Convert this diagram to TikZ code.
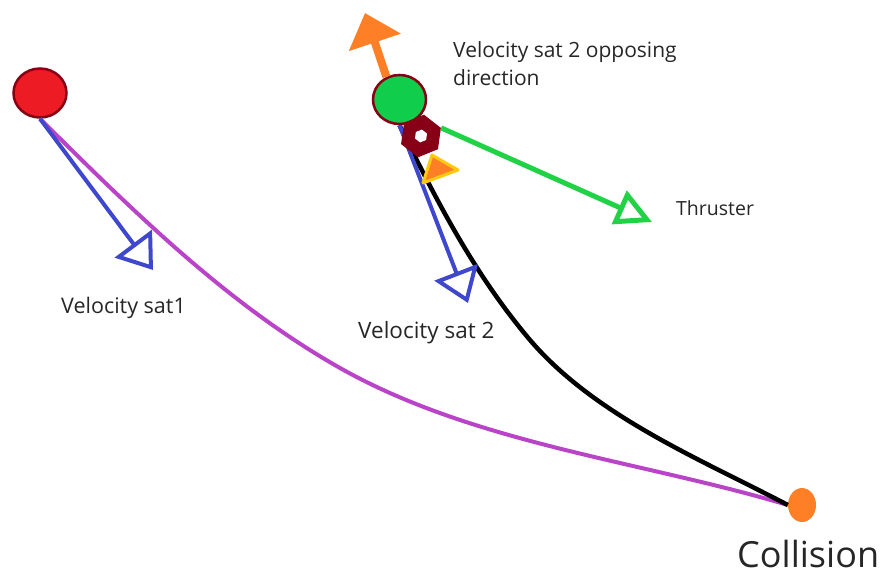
\documentclass[tikz,border=0pt]{standalone}
\usepackage{fontspec}
\setmainfont{Open Sans}
\usepackage{xcolor}
\usepackage{tikz}
\usetikzlibrary{positioning,arrows.meta,shapes.geometric}

\definecolor{satred}{RGB}{237,28,36}
\definecolor{rimred}{RGB}{136,0,21}
\definecolor{satgreen}{RGB}{16,205,76}
\definecolor{thrgreen}{RGB}{34,210,70}
\definecolor{velblue}{RGB}{63,72,204}
\definecolor{orbpurple}{RGB}{186,68,200}
\definecolor{dotorange}{RGB}{255,127,39}
\definecolor{flameyel}{RGB}{255,201,14}

\begin{document}
\begin{tikzpicture}[
  x=1pt, y=-1pt,
  font=\fontsize{21}{28}\selectfont,
  sat/.style={draw=rimred, ellipse, line width=2.5pt,
              minimum width=53pt, minimum height=49pt, inner sep=0pt},
  vel/.style={velblue, line width=4pt,
              -{Triangle[open, length=33pt, width=46pt]}},
  orbit/.style={line width=4pt},
  lbl/.style={anchor=base west, inner sep=0pt, text=black!85},
  ]
\useasboundingbox (0,0) rectangle (889,576);

% satellites and collision point
\node[sat, fill=satred]   (sat1) at (40,93)  {};
\node[sat, fill=satgreen] (sat2) at (399.5,99.5) {};
\node[ellipse, fill=dotorange, minimum width=28pt, minimum height=34pt,
      inner sep=0pt] (coll) at (802,505) {};

% orbits
\draw[orbit, orbpurple] (sat1.south) .. controls (133,211) and (227,304) .. (340,368)
  .. controls (475,444) and (641,461) .. (coll.west);
\draw[orbit, black, line width=4.5pt] (sat2.south) .. controls (437,202) and (475,275) .. (530,340)
  .. controls (595,416) and (700,459) .. (coll.west);

% velocities
\coordinate (v1) at (153,270);
\coordinate (v2) at (468,303);
\draw[vel] (sat1.south) -- (v1);
\draw[vel] (sat2.south) -- (v2);

% opposing direction
\coordinate (opp) at (365,13);
\draw[dotorange, line width=8pt,
      -{Triangle[length=31pt, width=53pt]}] (sat2.120) -- (opp);

% thruster
\node[regular polygon, regular polygon sides=6, fill=rimred, rotate=22,
      minimum size=43pt, inner sep=0pt] (hex) at (421,136) {};
\node[regular polygon, regular polygon sides=6, fill=white, rotate=22,
      minimum size=13pt, inner sep=0pt] at (hex.center) {};
\draw[fill=dotorange, draw=flameyel, line width=3pt, line join=round]
  (423,183) -- (458,170) -- (432,155) -- cycle;
\coordinate (thr) at (652,222);
\draw[thrgreen, line width=5pt,
      -{Triangle[open, length=36pt, width=36pt]}] (hex.east) -- (thr);

% labels
\node[lbl, align=left] (oppl) at (453,85) {Velocity sat 2 opposing\\direction};
\node[lbl, font=\fontsize{19.5}{24}\selectfont] (thrl) at (676,215) {Thruster};
\node[lbl, font=\fontsize{21.5}{26}\selectfont] (v1l) at (61,313) {Velocity sat1};
\node[lbl, font=\fontsize{22.5}{28}\selectfont] (v2l) at (358,338) {Velocity sat 2};
\node[lbl, font=\fontsize{36}{40}\selectfont] (colll) at (737,567) {Collision};
\end{tikzpicture}
\end{document}
